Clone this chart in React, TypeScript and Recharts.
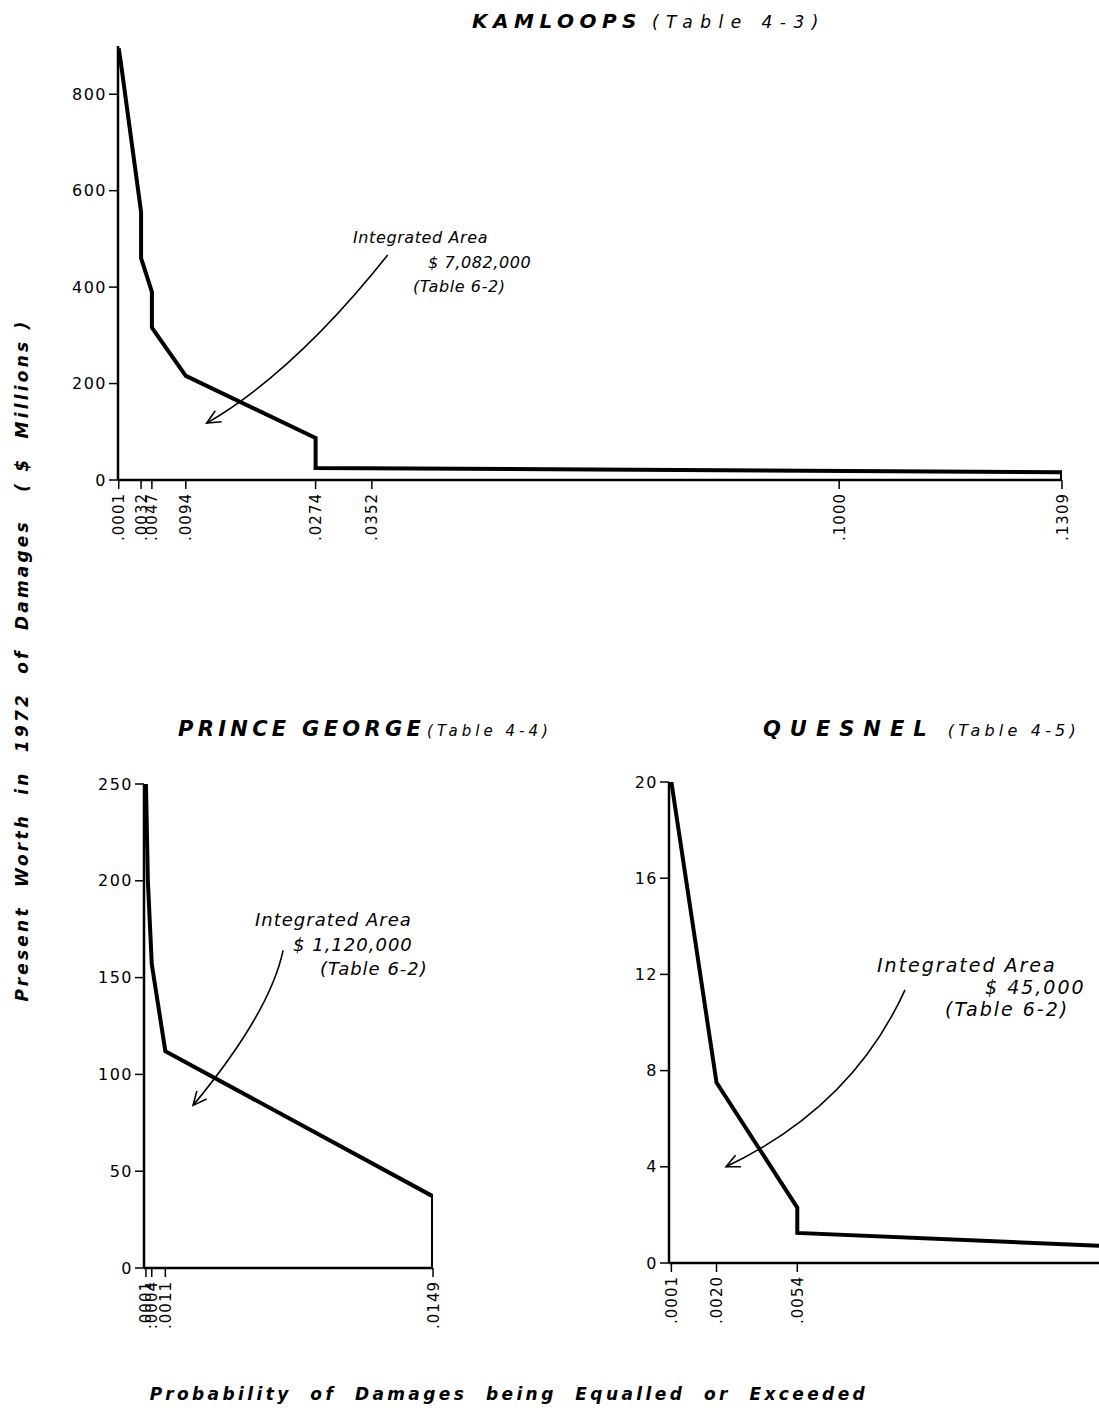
import { LineChart, Line, XAxis, YAxis, ReferenceDot } from 'recharts';

const FONT = '"DejaVu Sans", Verdana, sans-serif';

// Kamloops (Table 4-3)
const kamProb = [0.0001, 0.0004, 0.0032, 0.0032, 0.0047, 0.0047, 0.0094, 0.0274, 0.0274, 0.1309, 0.1309];
const kamDamage = [895, 865, 556, 460, 390, 316, 216, 87, 25, 16, 0];
const kamXTicks = [0.0001, 0.0032, 0.0047, 0.0094, 0.0274, 0.0352, 0.1, 0.1309];
const kamXLabels = ['.0001', '.0032', '.0047', '.0094', '.0274', '.0352', '.1000', '.1309'];
const kamYTicks = [0, 200, 400, 600, 800];

// Prince George (Table 4-4)
const pgProb = [0.0001, 0.0002, 0.0004, 0.0011, 0.0149, 0.0149];
const pgDamage = [250, 200, 157, 112, 37, 0];
const pgXTicks = [0.0001, 0.0004, 0.0011, 0.0149];
const pgXLabels = ['.0001', '.0004', '.0011', '.0149'];
const pgYTicks = [0, 50, 100, 150, 200, 250];

// Quesnel (Table 4-5)
const qProb = [0.0001, 0.002, 0.0054, 0.0054, 0.0181];
const qDamage = [20, 7.5, 2.3, 1.25, 0.72];
const qXTicks = [0.0001, 0.002, 0.0054];
const qXLabels = ['.0001', '.0020', '.0054'];
const qYTicks = [0, 4, 8, 12, 16, 20];

const toRows = (xs: number[], ys: number[]) => xs.map((x, i) => ({ x, y: ys[i] }));

const makeXTick = (vals: number[], labels: string[]) => (props: any) => {
  const { x, y, payload } = props;
  const i = vals.findIndex(v => Math.abs(v - payload.value) < 1e-9);
  return (
    <g transform={`translate(${x},${y})`}>
      <text transform="rotate(-90)" x={-2} y={5.5} textAnchor="end" fontSize={15} letterSpacing={1} fill="#000" fontFamily={FONT}>
        {i >= 0 ? labels[i] : ''}
      </text>
    </g>
  );
};

// open arrowhead at the data point, curved tail given as pixel offsets
const arrowShape = (ctrl: [number, number], tail: [number, number]) => (p: any) => {
  const { cx, cy } = p;
  if (cx == null || cy == null) return <g />;
  const len = Math.hypot(ctrl[0], ctrl[1]);
  const bx = ctrl[0] / len, by = ctrl[1] / len;
  const a = (25 * Math.PI) / 180;
  const r = (s: number) => [bx * Math.cos(s) - by * Math.sin(s), bx * Math.sin(s) + by * Math.cos(s)];
  const [ax, ay] = r(a);
  const [cx2, cy2] = r(-a);
  return (
    <g fill="none" stroke="#000" strokeWidth={1.6}>
      <path d={`M ${cx + tail[0]} ${cy + tail[1]} Q ${cx + ctrl[0]} ${cy + ctrl[1]} ${cx} ${cy}`} />
      <path d={`M ${cx + ax * 15} ${cy + ay * 15} L ${cx} ${cy} L ${cx + cx2 * 15} ${cy + cy2 * 15}`} />
    </g>
  );
};

const axisLine = { stroke: '#000', strokeWidth: 2.5 };
const tickLine = { stroke: '#000', strokeWidth: 1.5 };
const yTick = { fill: '#000', fontSize: 16, fontFamily: FONT, letterSpacing: 1.5 };

interface PanelProps {
  left: number; top: number; width: number; height: number;
  margin: { top: number; right: number; left: number; bottom: number };
  xAxisHeight: number;
  data: { x: number; y: number }[];
  xDomain: [number, number]; yDomain: [number, number];
  xTicks: number[]; xLabels: string[]; yTicks: number[];
  arrow: { x: number; y: number; ctrl: [number, number]; tail: [number, number] };
}

function Panel(p: PanelProps) {
  return (
    <div style={{ position: 'absolute', left: p.left, top: p.top }}>
      <LineChart width={p.width} height={p.height} data={p.data} margin={p.margin}>
        <XAxis dataKey="x" type="number" domain={p.xDomain} ticks={p.xTicks} interval={0}
          axisLine={axisLine} tickLine={tickLine} tickSize={9} height={p.xAxisHeight}
          tick={makeXTick(p.xTicks, p.xLabels)} allowDataOverflow />
        <YAxis type="number" domain={p.yDomain} ticks={p.yTicks} interval={0} width={60}
          axisLine={axisLine} tickLine={tickLine} tickSize={9} tick={yTick} allowDataOverflow />
        <Line type="linear" dataKey="y" stroke="#000" strokeWidth={4} dot={false}
          isAnimationActive={false} strokeLinejoin="miter" />
        <ReferenceDot x={p.arrow.x} y={p.arrow.y} r={0} shape={arrowShape(p.arrow.ctrl, p.arrow.tail)} />
      </LineChart>
    </div>
  );
}

const labelStyle = { whiteSpace: 'pre' as const };

export default function App() {
  return (
    <div style={{ position: 'absolute', left: 0, top: 0, width: 1099, height: 1412, background: '#fff', overflow: 'hidden' }}>
      <Panel left={0} top={0} width={1099} height={560}
        margin={{ top: 46, right: 37, left: 58, bottom: 0 }} xAxisHeight={80}
        data={toRows(kamProb, kamDamage)} xDomain={[0, 0.1309]} yDomain={[0, 900]}
        xTicks={kamXTicks} xLabels={kamXLabels} yTicks={kamYTicks}
        arrow={{ x: 0.0123, y: 118, ctrl: [88, -51], tail: [181, -168] }} />
      <Panel left={0} top={740} width={480} height={620}
        margin={{ top: 44, right: 47, left: 84, bottom: 0 }} xAxisHeight={92}
        data={toRows(pgProb, pgDamage)} xDomain={[0, 0.0149]} yDomain={[0, 250]}
        xTicks={pgXTicks} xLabels={pgXLabels} yTicks={pgYTicks}
        arrow={{ x: 0.00253, y: 84, ctrl: [77, -93], tail: [90, -155] }} />
      <Panel left={560} top={740} width={539} height={620}
        margin={{ top: 42, right: 0, left: 49, bottom: 0 }} xAxisHeight={97}
        data={toRows(qProb, qDamage)} xDomain={[0, 0.0181]} yDomain={[0, 20]}
        xTicks={qXTicks} xLabels={qXLabels} yTicks={qYTicks}
        arrow={{ x: 0.0024, y: 4, ctrl: [126, -60], tail: [179, -177] }} />

      <svg width={1099} height={1412} style={{ position: 'absolute', left: 0, top: 0, pointerEvents: 'none' }} fontFamily={FONT} fill="#000">
        {/* titles */}
        <text x={472} y={28} style={labelStyle}>
          <tspan fontSize={20} fontWeight="bold" fontStyle="italic" letterSpacing={5.5}>KAMLOOPS</tspan>
          <tspan fontSize={17} fontStyle="italic" letterSpacing={7.5} dx={10}>(Table 4-3)</tspan>
        </text>
        <text x={178} y={736} style={labelStyle}>
          <tspan fontSize={21} fontWeight="bold" fontStyle="italic" letterSpacing={4.3}>PRINCE GEORGE</tspan>
          <tspan fontSize={15} fontStyle="italic" letterSpacing={4} dx={2}>(Table 4-4)</tspan>
        </text>
        <text x={763} y={736} style={labelStyle}>
          <tspan fontSize={21} fontWeight="bold" fontStyle="italic" letterSpacing={9}>QUESNEL</tspan>
          <tspan fontSize={16} fontStyle="italic" letterSpacing={4.2} dx={12}>(Table 4-5)</tspan>
        </text>

        {/* integrated area notes */}
        <g fontStyle="italic">
          <g fontSize={16} letterSpacing={0.6}>
            <text x={353} y={243}>Integrated Area</text>
            <text x={428} y={268} style={labelStyle}>$ 7,082,000</text>
            <text x={413} y={292}>(Table 6-2)</text>
          </g>
          <g fontSize={18} letterSpacing={1}>
            <text x={255} y={926}>Integrated Area</text>
            <text x={293} y={951} style={labelStyle}>$ 1,120,000</text>
            <text x={320} y={975}>(Table 6-2)</text>
          </g>
          <g fontSize={19} letterSpacing={2}>
            <text x={877} y={972}>Integrated Area</text>
            <text x={985} y={994} style={labelStyle}>$ 45,000</text>
            <text x={945} y={1016}>(Table 6-2)</text>
          </g>
        </g>

        {/* axis titles */}
        <text transform="translate(28,660) rotate(-90)" textAnchor="middle" fontSize={17} fontWeight="bold" fontStyle="italic" letterSpacing={3.2} style={labelStyle}>
          {'Present  Worth  in  1972  of  Damages   ( $  Millions )'}
        </text>
        <text x={509} y={1400} textAnchor="middle" fontSize={17} fontWeight="bold" fontStyle="italic" letterSpacing={3.4} style={labelStyle}>
          {'Probability  of  Damages  being  Equalled  or  Exceeded'}
        </text>
      </svg>
    </div>
  );
}
